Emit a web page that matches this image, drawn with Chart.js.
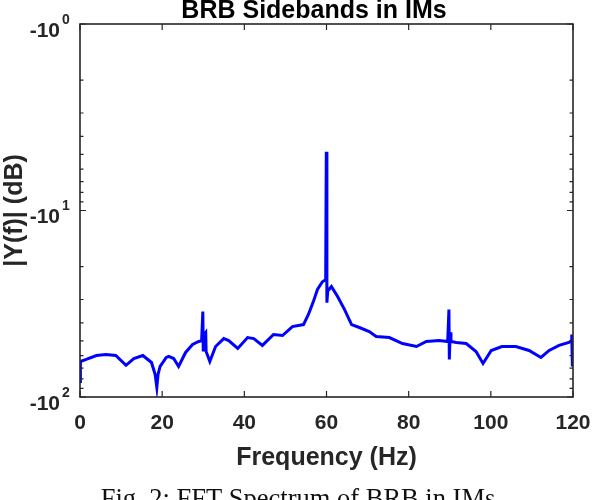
<!DOCTYPE html>
<html>
<head>
<meta charset="utf-8">
<title>BRB Sidebands in IMs</title>
<script src="https://cdn.jsdelivr.net/npm/chart.js@4/dist/chart.umd.min.js"></script>
<style>
  html, body { margin: 0; padding: 0; background: #fff; }
  #wrap { width: 592px; height: 500px; position: relative; }
</style>
</head>
<body>
<div id="wrap"><canvas id="fftChart"></canvas></div>
<script>
// Frequency (Hz) and spectrum magnitude (plotted as -dB)
const freqHz = [0, 0.1, 1.5, 4, 6.3, 8.7, 11.2, 13.1, 15.3, 17.4, 18.3, 18.7, 19.0, 19.5, 21.0, 21.6, 22.8, 24.0,
  25.7, 27.4, 28.9, 29.6, 29.9, 30.0, 30.3, 30.6, 30.7, 31.6, 33.0, 35.0, 36.2, 38.4, 40.8, 42.3, 44.4,
  47.1, 49.3, 51.7, 54.4, 55.6, 56.8, 57.8, 59.0, 59.8, 59.95, 60.1, 60.3, 61.2, 62.7, 64.4, 66.1, 68.0,
  70.4, 72.1, 75.3, 78.5, 81.9, 84.3, 87.4, 89.5, 89.8, 89.9, 90.1, 90.3, 91.6, 94.0, 96.4, 98.1, 100.1,
  102.7, 106.1, 109.3, 112.2, 114.2, 116.6, 119.0, 119.6, 119.7, 119.85, 120];
const magDb = [82.5, 64.5, 62.9, 59.9, 59.2, 59.9, 67.6, 62.2, 59.9, 65.3, 75.7, 88.8, 75.7, 68.6, 61.4, 60.6, 62.2, 68.6,
  57.7, 52.3, 50.4, 50.0, 34.8, 57.0, 46.0, 45.1, 57.0, 64.5, 53.6, 48.6, 49.8, 54.9, 48.0, 48.6, 52.9,
  46.2, 46.8, 41.9, 40.9, 36.1, 30.8, 26.5, 24.1, 23.5, 4.84, 31.2, 27.0, 25.6, 28.9, 34.0, 40.9, 42.4,
  44.6, 47.4, 48.0, 51.7, 53.6, 50.4, 49.8, 50.4, 34.0, 62.9, 45.0, 50.4, 51.0, 51.7, 57.0, 66.1, 56.3,
  53.6, 53.6, 56.3, 61.4, 56.3, 52.9, 51.0, 50.0, 46.2, 68.6, 50.0];

const xTicks = [0, 20, 40, 60, 80, 100, 120];
const yLabelValues = [1, 10, 100];
const yLabelExps = ['0', '1', '2'];
const yMinorValues = [2, 3, 4, 5, 6, 7, 8, 9, 20, 30, 40, 50, 60, 70, 80, 90];

const axisColor = '#262626';
const sans = '"Liberation Sans", Arial, Helvetica, sans-serif';

// Marco estilo MATLAB: caja, ticks hacia dentro, etiquetas con exponente
const matlabFrame = {
  id: 'matlabFrame',
  afterDraw(chart) {
    const ctx = chart.ctx;
    const a = chart.chartArea;
    const xs = chart.scales.x;
    const ys = chart.scales.y;
    ctx.save();
    ctx.strokeStyle = axisColor;
    ctx.lineWidth = 1.6;
    ctx.strokeRect(a.left, a.top, a.right - a.left, a.bottom - a.top);

    ctx.lineWidth = 1.2;
    ctx.beginPath();
    xTicks.forEach(v => {
      const px = xs.getPixelForValue(v);
      ctx.moveTo(px, a.bottom); ctx.lineTo(px, a.bottom - 6);
      ctx.moveTo(px, a.top); ctx.lineTo(px, a.top + 6);
    });
    yLabelValues.forEach(v => {
      const py = ys.getPixelForValue(v);
      ctx.moveTo(a.left, py); ctx.lineTo(a.left + 6, py);
      ctx.moveTo(a.right, py); ctx.lineTo(a.right - 6, py);
    });
    yMinorValues.forEach(v => {
      const py = ys.getPixelForValue(v);
      ctx.moveTo(a.left, py); ctx.lineTo(a.left + 3.5, py);
      ctx.moveTo(a.right, py); ctx.lineTo(a.right - 3.5, py);
    });
    ctx.stroke();

    // etiquetas del eje y: -10^n
    ctx.fillStyle = axisColor;
    yLabelValues.forEach((v, i) => {
      const py = ys.getPixelForValue(v);
      ctx.font = 'bold 21px ' + sans;
      ctx.textAlign = 'right';
      ctx.textBaseline = 'middle';
      ctx.fillText('-10', 60, py + 7);
      ctx.font = 'bold 14px ' + sans;
      ctx.textAlign = 'left';
      ctx.fillText(yLabelExps[i], 62, py - 4);
    });

    // títulos
    ctx.font = 'bold 25px ' + sans;
    ctx.textAlign = 'center';
    ctx.textBaseline = 'alphabetic';
    ctx.fillStyle = '#000';
    ctx.fillText('BRB Sidebands in IMs', 314, 18);
    ctx.fillStyle = axisColor;
    ctx.fillText('Frequency (Hz)', (a.left + a.right) / 2, 465);

    ctx.save();
    ctx.translate(22, (a.top + a.bottom) / 2);
    ctx.rotate(-Math.PI / 2);
    ctx.fillText('|Y(f)| (dB)', 0, 0);
    ctx.restore();

    ctx.fillStyle = '#111';
    ctx.font = '26.5px "Liberation Serif", "Times New Roman", Times, serif';
    ctx.fillText('Fig. 2: FFT Spectrum of BRB in IMs', 298, 507);
    ctx.restore();
  }
};

const ctx = document.getElementById('fftChart').getContext('2d');
const fftChart = new Chart(ctx, {
  type: 'line',
  data: {
    datasets: [{
      label: '|Y(f)|',
      data: freqHz.map((f, i) => ({ x: f, y: magDb[i] })),
      borderColor: '#0000ff',
      backgroundColor: '#0000ff',
      borderWidth: 3,
      pointRadius: 0,
      tension: 0,
      fill: false
    }]
  },
  options: {
    responsive: true,
    maintainAspectRatio: false,
    animation: false,
    layout: { padding: { left: 0, right: 19, top: 24, bottom: 0 } },
    plugins: {
      legend: { display: false },
      tooltip: { enabled: false },
      title: { display: false }
    },
    scales: {
      x: {
        type: 'linear',
        min: 0,
        max: 120,
        afterBuildTicks: scale => { scale.ticks = xTicks.map(v => ({ value: v })); },
        afterFit: scale => {
          scale.height = 103;
          scale.paddingLeft = 0;
          scale.paddingRight = 0;
        },
        grid: { display: false, drawTicks: false },
        border: { display: false },
        ticks: {
          padding: 14,
          maxRotation: 0,
          color: axisColor,
          font: { family: sans, size: 21, weight: 'bold' }
        }
      },
      y: {
        type: 'logarithmic',
        min: 1,
        max: 100,
        reverse: true,
        afterBuildTicks: scale => { scale.ticks = yLabelValues.map(v => ({ value: v })); },
        afterFit: scale => { scale.width = 80; },
        grid: { display: false, drawTicks: false },
        border: { display: false },
        ticks: { display: false }
      }
    }
  },
  plugins: [matlabFrame]
});
</script>
</body>
</html>
